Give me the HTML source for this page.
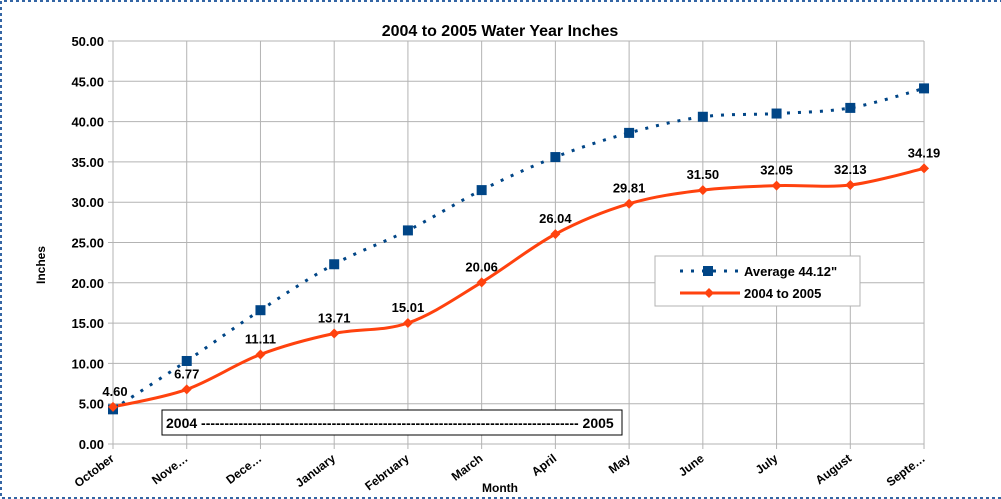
<!DOCTYPE html>
<html><head><meta charset="utf-8"><style>
html,body{margin:0;padding:0;background:#fff}
svg{display:block;font-family:"Liberation Sans",sans-serif}
</style></head><body>
<svg id="s" width="1001" height="499" xmlns="http://www.w3.org/2000/svg">
<path d="M1003 1H1V498H1003" fill="none" stroke="#3465a4" stroke-width="2" stroke-dasharray="3,3"/>
<text x="500" y="36" text-anchor="middle" font-size="16" font-weight="bold">2004 to 2005 Water Year Inches</text>
<g id="grid" stroke="#b3b3b3" stroke-width="1"></g>
<g id="yl" font-size="13" font-weight="bold" text-anchor="end"></g>
<g id="xl" font-size="12" font-weight="bold" text-anchor="end"></g>
<text x="45" y="265" font-size="12" font-weight="bold" text-anchor="middle" transform="rotate(-90 45 265)">Inches</text>
<text x="500" y="492" font-size="12" font-weight="bold" text-anchor="middle">Month</text>
<rect x="162" y="410" width="460" height="25" fill="#fff" stroke="#000"/>
<text x="166" y="428" font-size="14" font-weight="bold">2004 --------------------------------------------------------------------------------- 2005</text>
<path id="avg" fill="none" stroke="#004586" stroke-width="3" stroke-dasharray="3,8"/>
<path id="act" fill="none" stroke="#ff420e" stroke-width="3"/>
<g id="mk"></g>
<g id="lb" font-size="13" font-weight="bold" text-anchor="middle"></g>
<rect x="655" y="256" width="205" height="50" fill="#fff" stroke="#b3b3b3"/>
<line x1="680" y1="271" x2="740" y2="271" stroke="#004586" stroke-width="3" stroke-dasharray="3,8"/>
<rect x="703" y="266" width="10" height="10" fill="#004586"/>
<text x="744" y="276" font-size="13" font-weight="bold">Average 44.12"</text>
<line x1="680" y1="293" x2="740" y2="293" stroke="#ff420e" stroke-width="3"/>
<path d="M709 288l5 5-5 5-5-5z" fill="#ff420e"/>
<text x="744" y="298" font-size="13" font-weight="bold">2004 to 2005</text>
</svg>
<script>
var NS="http://www.w3.org/2000/svg";
function X(i){return 113+73.73*i}
function Y(v){return 444-8.06*v}
function el(p,t,a,txt){var e=document.createElementNS(NS,t);for(var k in a)e.setAttribute(k,a[k]);if(txt!=null)e.textContent=txt;document.getElementById(p).appendChild(e);}
for(var v=0;v<=50;v+=5){el("grid","line",{x1:108,x2:924,y1:Y(v),y2:Y(v)});el("yl","text",{x:104,y:Y(v)+5},v.toFixed(2));}
var m=["October","Nove…","Dece…","January","February","March","April","May","June","July","August","Septe…"];
for(var i=0;i<12;i++){el("grid","line",{x1:X(i),x2:X(i),y1:41,y2:449});var x=X(i)+2,y=460;el("xl","text",{x:x,y:y,transform:"rotate(-37 "+x+" "+y+")"},m[i]);}
var avg=[4.3,10.3,16.6,22.3,26.5,31.5,35.6,38.6,40.6,41.0,41.7,44.12];
var act=[4.60,6.77,11.11,13.71,15.01,20.06,26.04,29.81,31.50,32.05,32.13,34.19];
function path(d){var p=d.map(function(v,i){return[X(i),Y(v)]});var s="M"+p[0];for(var i=0;i<p.length-1;i++){var p0=p[i-1]||p[i],p1=p[i],p2=p[i+1],p3=p[i+2]||p2;var c1=[p1[0]+(p2[0]-p0[0])/6,p1[1]+(p2[1]-p0[1])/6],c2=[p2[0]-(p3[0]-p1[0])/6,p2[1]-(p3[1]-p1[1])/6];s+="C"+c1+" "+c2+" "+p2;}return s;}
document.getElementById("avg").setAttribute("d",path(avg));
document.getElementById("act").setAttribute("d",path(act));
for(var i=0;i<12;i++){el("mk","rect",{x:X(i)-5,y:Y(avg[i])-5,width:10,height:10,fill:"#004586"});
var x=X(i),y=Y(act[i]);el("mk","path",{d:"M"+x+" "+(y-5)+"l5 5-5 5-5-5z",fill:"#ff420e"});
el("lb","text",{x:x+(i==0?2:0),y:y-11},act[i].toFixed(2));}
</script>
</body></html>
